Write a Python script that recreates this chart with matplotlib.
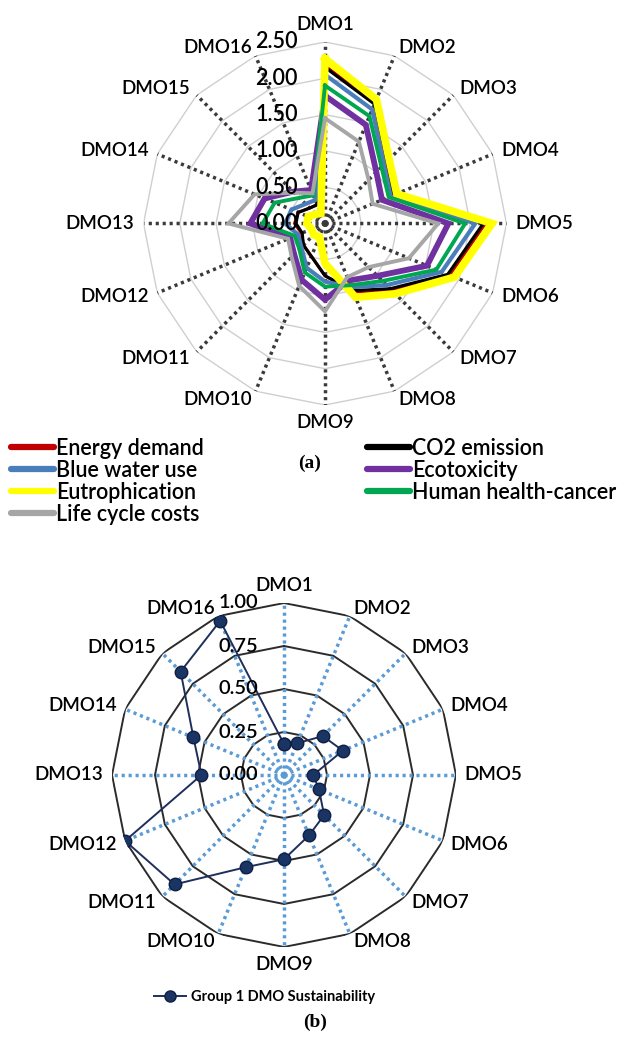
import numpy as np
import matplotlib
matplotlib.use("Agg")
import matplotlib.pyplot as plt
from matplotlib.transforms import offset_copy
from matplotlib.lines import Line2D

plt.rcParams['font.family'] = ['Lato', 'DejaVu Sans']
plt.rcParams['font.weight'] = 'semibold'

# ---------------- data ----------------
categories = [f"DMO{i}" for i in range(1, 17)]

energy_demand = [2.17, 1.80, 1.22, 1.02, 2.21, 1.86, 1.30, 1.02, 0.72, 0.49, 0.42, 0.35, 0.42, 0.40, 0.30, 0.28]
co2_emission = [2.15, 1.78, 1.20, 1.00, 2.18, 1.83, 1.27, 1.00, 0.72, 0.49, 0.42, 0.34, 0.40, 0.40, 0.30, 0.28]
blue_water_use = [2.05, 1.70, 1.15, 0.98, 2.07, 1.74, 1.20, 0.95, 0.80, 0.66, 0.46, 0.40, 0.55, 0.50, 0.38, 0.35]
ecotoxicity = [1.76, 1.47, 1.00, 0.85, 1.70, 1.52, 1.02, 0.85, 1.05, 0.84, 0.60, 0.52, 1.03, 0.90, 0.62, 0.50]
eutrophication = [2.27, 1.85, 1.25, 1.07, 2.30, 1.93, 1.37, 1.10, 0.55, 0.20, 0.22, 0.20, 0.25, 0.25, 0.18, 0.15]
human_health_cancer = [1.90, 1.60, 1.10, 0.95, 1.93, 1.66, 1.12, 0.92, 0.87, 0.73, 0.50, 0.45, 0.86, 0.75, 0.50, 0.42]
life_cycle_costs = [1.45, 1.22, 0.85, 0.71, 1.56, 1.25, 0.85, 0.80, 1.21, 0.93, 0.65, 0.55, 1.33, 1.05, 0.60, 0.45]

top_ticks = [0.0, 0.5, 1.0, 1.5, 2.0, 2.5]

group1_sustainability = [0.18, 0.20, 0.32, 0.37, 0.17, 0.22, 0.33, 0.38, 0.49, 0.58, 0.90, 1.00, 0.48, 0.57, 0.85, 0.97]
bottom_ticks = [0.0, 0.25, 0.50, 0.75, 1.00]

series = [
    ("Energy demand", energy_demand, "#c00000", 2.2),
    ("CO2 emission", co2_emission, "#000000", 2.2),
    ("Blue water use", blue_water_use, "#4a7ebb", 3.0),
    ("Ecotoxicity", ecotoxicity, "#7030a0", 4.2),
    ("Eutrophication", eutrophication, "#ffff00", 5.5),
    ("Human health-cancer", human_health_cancer, "#00a650", 2.8),
    ("Life cycle costs", life_cycle_costs, "#a6a6a6", 2.8),
]

W, H = 630, 1041
fig = plt.figure(figsize=(W / 100, H / 100), dpi=100)

n = len(categories)
angles = np.linspace(0, 2 * np.pi, n, endpoint=False)
closed = np.append(angles, angles[0])


def polar_axes(cx, cy, rad):
    ax = fig.add_axes([(cx - rad) / W, 1 - (cy + rad) / H, 2 * rad / W, 2 * rad / H],
                      projection="polar")
    ax.set_theta_zero_location("N")
    ax.set_theta_direction(-1)
    ax.grid(False)
    ax.spines["polar"].set_visible(False)
    ax.set_xticks([])
    ax.set_yticks([])
    ax.patch.set_alpha(0)
    return ax


def draw_frame(ax, ticks, rmax, ring_color, ring_lw, spoke_color, spoke_lw,
               tick_fs, label_fs, tick_dx, label_gap):
    for t in ticks[1:]:
        ax.plot(closed, [t] * (n + 1), color=ring_color, lw=ring_lw, zorder=1)
    for a in angles:
        ax.plot([a, a], [0, rmax], color=spoke_color, lw=spoke_lw,
                linestyle=(0, (0.9, 1.1)), dash_capstyle="butt", zorder=1)
    ax.set_ylim(0, rmax)
    tr = offset_copy(ax.transData, fig=fig, x=-tick_dx, y=0, units="dots")
    for t in ticks:
        ax.text(0, t, f"{t:.2f}", transform=tr, ha="right", va="center",
                fontsize=tick_fs, color="#000000", zorder=5)
    for a, lab in zip(angles, categories):
        deg = np.degrees(a)
        if abs(deg) < 1:
            ha, va = "center", "bottom"
        elif abs(deg - 180) < 1:
            ha, va = "center", "top"
        elif deg < 180:
            ha, va = "left", "center"
        else:
            ha, va = "right", "center"
        ax.text(a, rmax * label_gap, lab, ha=ha, va=va, fontsize=label_fs,
                color="#000000", zorder=5)


# ---------------- chart (a) ----------------
ax1 = polar_axes(325, 223.5, 181.5)
draw_frame(ax1, top_ticks, 2.5, "#cfcfcf", 1.0, "#3a3a3a", 2.5, 15.5, 13.5, 27, 1.05)
handles = {}
for name, vals, col, lw in series:
    ax1.plot(closed, list(vals) + [vals[0]], color=col, lw=lw, zorder=3,
             solid_joinstyle="miter")
    handles[name] = Line2D([], [], color=col, lw=4.5, solid_capstyle="round")

order = ["Energy demand", "Blue water use", "Eutrophication", "Life cycle costs",
         "CO2 emission", "Ecotoxicity", "Human health-cancer"]
fig.legend([handles[k] for k in order], order, ncol=2, loc="upper left",
           bbox_to_anchor=(0.003, 1 - 429 / H), frameon=False,
           prop={"size": 15.5, "weight": "semibold"},
           handlelength=2.0, handletextpad=0.1, labelspacing=0.05,
           columnspacing=7.6, borderaxespad=0)
fig.text(0.492, 1 - 463 / H, "(a)", ha="center", va="center", fontsize=14,
         fontweight="bold", family="Liberation Serif")

# ---------------- chart (b) ----------------
ax2 = polar_axes(284, 775, 172)
draw_frame(ax2, bottom_ticks, 1.0, "#2b2b2b", 1.4, "#5b9bd5", 2.5, 14.5, 13.5, 26, 1.05)
ax2.plot(closed, group1_sustainability + [group1_sustainability[0]], color="#1f2f5c",
         lw=1.4, marker="o", markersize=9, markerfacecolor="#1a3563",
         markeredgecolor="#0f1f44", zorder=4)
leg_handle = Line2D([], [], color="#1f2f5c", lw=1.4, marker="o", markersize=8,
                    markerfacecolor="#1a3563", markeredgecolor="#0f1f44")
fig.legend([leg_handle], ["Group 1 DMO Sustainability"], loc="center",
           bbox_to_anchor=(0.42, 1 - 997 / H), frameon=False,
           prop={"weight": "bold", "size": 10.5}, handlelength=2.2, handletextpad=0.4)
fig.text(0.5, 1 - 1022 / H, "(b)", ha="center", va="center", fontsize=14,
         fontweight="bold", family="Liberation Serif")

fig.savefig("out.png", dpi=100)
